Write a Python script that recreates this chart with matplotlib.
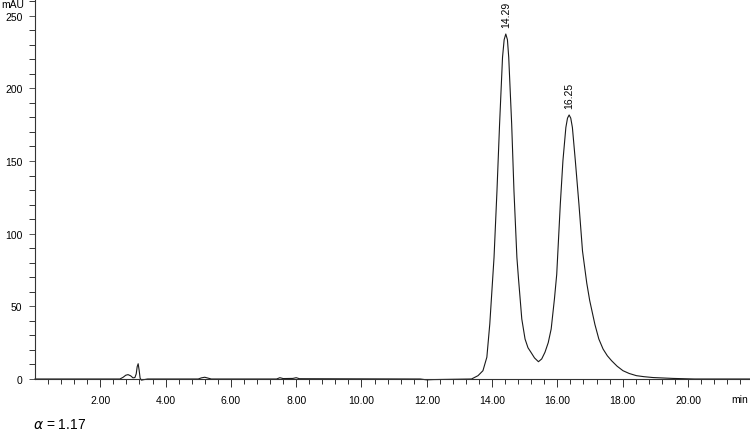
import matplotlib.pyplot as plt
import numpy as np

plt.rcParams['font.family'] = ['Liberation Sans', 'DejaVu Sans']

# retention time (min) and absorbance (mAU)
time_min = [0.0, 2.60, 2.70, 2.78, 2.85, 2.93, 3.00, 3.06, 3.10, 3.13, 3.16, 3.19,
            3.22, 3.26, 3.32, 3.45, 5.00, 5.10, 5.20, 5.30, 5.40, 7.40, 7.50,
            7.60, 7.90, 8.00, 8.10, 11.80, 12.00, 12.20, 13.37, 13.57, 13.72,
            13.84, 13.93, 14.06, 14.15, 14.23, 14.32, 14.37, 14.42, 14.47, 14.51,
            14.60, 14.67, 14.76, 14.81, 14.86, 14.91, 15.01, 15.10, 15.19, 15.30,
            15.42, 15.52, 15.62, 15.72, 15.81, 15.91, 15.98, 16.09, 16.17, 16.26,
            16.31, 16.36, 16.41, 16.46, 16.55, 16.66, 16.77, 16.90, 16.99, 17.15,
            17.27, 17.40, 17.53, 17.66, 17.83, 18.01, 18.20, 18.42, 18.65, 18.93,
            19.54, 20.20, 21.90]
mau = [0.0, 0.0, 1.2, 2.6, 3.0, 2.2, 0.8, 1.0, 3.5, 8.5, 10.5, 6.0,
       0.5, -0.8, -0.5, 0.0, 0.0, 0.8, 1.2, 0.6, 0.0, 0.0, 0.9,
       0.3, 0.4, 0.9, 0.2, 0.0, -0.6, -0.4, 0.0, 2.3, 5.7,
       15.0, 37.9, 83.7, 129.6, 175.5, 221.4, 233.5, 237.4, 233.5, 221.4,
       175.5, 129.6, 83.7, 68.8, 55.1, 41.3, 27.5, 21.5, 18.4, 14.5,
       11.9, 13.8, 18.4, 25.0, 34.4, 55.1, 72.0, 120.4, 150.2, 173.1,
       179.5, 181.7, 179.5, 173.1, 150.2, 120.4, 88.0, 66.0, 54.0, 37.5,
       27.5, 20.6, 16.0, 12.6, 8.8, 5.7, 3.8, 2.3, 1.6, 1.0,
       0.4, 0.0, 0.0]

peak_labels = ['14.29', '16.25']
peak_windows = [(13.5, 15.4), (15.5, 17.5)]
alpha_text = r'$\alpha$ = 1.17'

t = np.array(time_min)
y = np.array(mau)

fig = plt.figure(figsize=(7.5, 4.35), dpi=100)
ax = fig.add_axes([35 / 750, 55 / 435, 715 / 750, 380 / 435])

ax.plot(t, y, color='#1a1a1a', lw=0.8, clip_on=False)

ax.set_xlim(0, 21.9)
ax.set_ylim(0, 261.5)

for s in ['top', 'right']:
    ax.spines[s].set_visible(False)
for s in ['left', 'bottom']:
    ax.spines[s].set_color('#333333')
    ax.spines[s].set_linewidth(0.8)

ax.set_xticks(np.arange(2, 21, 2))
ax.set_xticklabels([f'{v:.2f}' for v in np.arange(2, 21, 2)])
ax.set_xticks(np.arange(0.4, 21.9, 0.4), minor=True)
ax.set_yticks(np.arange(0, 251, 50))
ax.set_yticks(np.arange(0, 261, 10), minor=True)

ax.tick_params(axis='x', which='major', length=5.8, width=0.7, pad=5.5,
               labelsize=7.5, color='#333333')
ax.tick_params(axis='x', which='minor', length=3.6, width=0.7, color='#333333')
ax.tick_params(axis='y', which='major', length=4.5, width=0.7, pad=4.5,
               labelsize=7.5, color='#555555')
ax.tick_params(axis='y', which='minor', length=4.2, width=0.7, color='#333333')

# peak retention time labels
for lab, (lo, hi) in zip(peak_labels, peak_windows):
    m = (t >= lo) & (t <= hi)
    i = np.argmax(np.where(m, y, -np.inf))
    ax.annotate(lab, (t[i], y[i]), xytext=(0, 5), textcoords='offset points',
                rotation=90, ha='center', va='bottom', fontsize=7.5, annotation_clip=False)

fig.text(1 / 750, 1 - 5 / 435, 'mAU', fontsize=7.5, ha='left', va='center')
fig.text(748 / 750, 1 - 400 / 435, 'min', fontsize=7.5, ha='right', va='center')
fig.text(33 / 750, 1 - 425 / 435, alpha_text, fontsize=10, ha='left', va='center')

fig.savefig('out.png', dpi=100)
